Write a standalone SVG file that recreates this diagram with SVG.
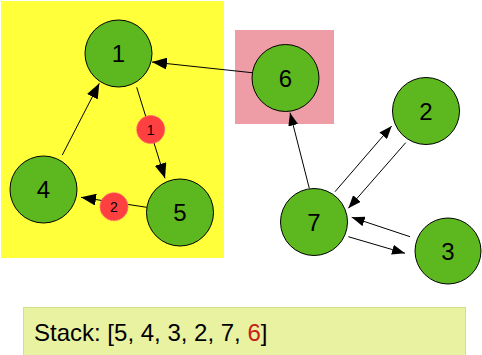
<svg xmlns="http://www.w3.org/2000/svg" width="482" height="355" viewBox="0 0 482 355">
<defs>
<marker id="ah" markerWidth="15" markerHeight="12" refX="15" refY="6" orient="auto" markerUnits="userSpaceOnUse">
<path d="M0,0 L15,6 L0,12 Z" fill="#000"/>
</marker>
<marker id="as" markerWidth="13" markerHeight="10" refX="13" refY="5" orient="auto" markerUnits="userSpaceOnUse">
<path d="M0,0 L13,5 L0,10 Z" fill="#000"/>
</marker>
<style>
.node circle{fill:#5db81f;stroke:#000;stroke-width:1}
.node text{font-family:"Liberation Sans",Arial,sans-serif;font-size:24px;fill:#000;text-anchor:middle}
.badge circle{fill:#ff4040;stroke:#ff7070;stroke-width:1;stroke-dasharray:2 1}
.badge text{font-family:"Liberation Sans",Arial,sans-serif;font-size:14px;fill:#000;text-anchor:middle}
.edges line{stroke:#000;stroke-width:1}
</style>
</defs>
<rect x="1" y="1" width="223" height="257" fill="#ffff3a"/>
<rect x="235" y="30" width="99" height="94" fill="#ee9da6"/>
<g class="edges">
<line x1="252" y1="72.7" x2="152" y2="62" marker-end="url(#ah)"/>
<line x1="136.7" y1="87.3" x2="165" y2="178.3" marker-end="url(#ah)"/>
<line x1="62.3" y1="155" x2="99.3" y2="83.3" marker-end="url(#ah)"/>
<line x1="146.7" y1="207.3" x2="81" y2="197.3" marker-end="url(#ah)"/>
<line x1="309.3" y1="188.3" x2="290" y2="112.7" marker-end="url(#as)"/>
<line x1="335" y1="191.7" x2="391.7" y2="126" marker-end="url(#as)"/>
<line x1="405.7" y1="142.7" x2="348.3" y2="208.3" marker-end="url(#as)"/>
<line x1="410" y1="236.7" x2="351.7" y2="217.3" marker-end="url(#as)"/>
<line x1="348.3" y1="236.7" x2="405" y2="253.3" marker-end="url(#as)"/>
</g>
<g id="badge1" class="badge"><circle cx="150.7" cy="129.5" r="14"/><text x="150.7" y="134.5">1</text></g>
<g id="badge2" class="badge"><circle cx="114" cy="206.7" r="14"/><text x="114" y="211.7">2</text></g>
<g id="node1" class="node"><circle cx="118.5" cy="53.5" r="33.5"/><text x="118.5" y="62">1</text></g>
<g id="node4" class="node"><circle cx="43.5" cy="189.5" r="33.5"/><text x="43.5" y="198">4</text></g>
<g id="node5" class="node"><circle cx="180" cy="212.5" r="33.5"/><text x="180" y="221">5</text></g>
<g id="node6" class="node"><circle cx="285.5" cy="78" r="33.5"/><text x="285.5" y="86.5">6</text></g>
<g id="node2" class="node"><circle cx="426" cy="111" r="33.5"/><text x="426" y="119.5">2</text></g>
<g id="node7" class="node"><circle cx="314" cy="222" r="33.5"/><text x="314" y="230.5">7</text></g>
<g id="node3" class="node"><circle cx="448" cy="251" r="33"/><text x="448" y="259.5">3</text></g>
<g id="stack">
<rect x="23.5" y="307.5" width="442" height="50" fill="#e8f2a0" stroke="#cfe28a" stroke-width="1"/>
<text x="34" y="341" font-family="Liberation Sans,Arial,sans-serif" font-size="24" fill="#000">Stack: [5, 4, 3, 2, 7, <tspan fill="#c8201a">6</tspan>]</text>
</g>
</svg>
